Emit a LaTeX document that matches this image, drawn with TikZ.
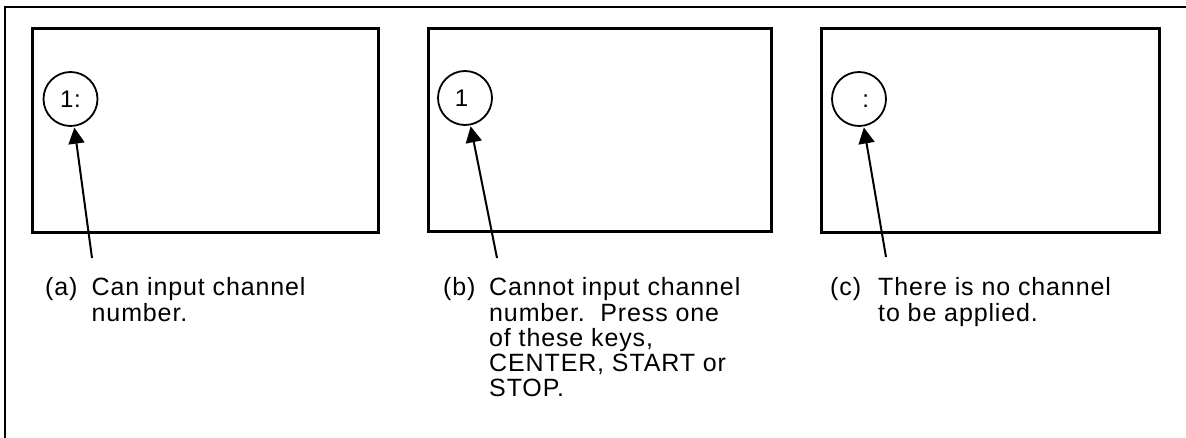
\documentclass[tikz,border=0pt]{standalone}
\usepackage{fontspec}
\setmainfont[LetterSpace=3.5]{Liberation Sans}
\usetikzlibrary{arrows.meta}
\begin{document}
\begin{tikzpicture}[x=1pt,y=-1pt,
  frame/.style={line width=2.6pt},
  screen/.style={line width=3pt},
  disp/.style={circle, draw, line width=1.8pt, minimum size=54pt, inner sep=0pt,
    font=\fontsize{24}{24}\selectfont},
  ptr/.style={line width=2pt, shorten >=1pt, -{Triangle[length=16pt,width=16pt]}},
  tag/.style={anchor=base west, inner sep=0pt, font=\fontsize{25}{24.5}\selectfont},
]
\useasboundingbox (0,0) rectangle (1186,438);
\fill[white] (0,0) rectangle (1186,438);
% outer frame (partial)
\draw[frame] (5,438) -- (5,7) -- (1186,7);
% screens
\draw[screen] (32,29) rectangle (378,233);
\draw[screen] (428,29) rectangle (771,232);
\draw[screen] (821,29) rectangle (1159,233);
% display circles
\node[disp] (ca) at (70.5,99) {1:};
\node[disp] (cb) at (465,98) {1\phantom{:}};
\node[disp] (cc) at (859,99) {\phantom{1}:};
% arrow tails
\coordinate (ta) at (92,258);
\coordinate (tb) at (497,258);
\coordinate (tc) at (886,257);
\draw[ptr] (ta) -- (ca);
\draw[ptr] (tb) -- (cb);
\draw[ptr] (tc) -- (cc);
% captions
\node[tag] (la) at (45,296) {(a)};
\node[tag] (xa) at (91.5,296) {\begin{tabular}[t]{@{}l@{}}Can input channel\\number.\end{tabular}};
\node[tag] (lb) at (443,296) {(b)};
\node[tag] (xb) at (489,296) {\begin{tabular}[t]{@{}l@{}}Cannot input channel\\number.~~Press one\\of these keys,\\CENTER, START or\\STOP.\end{tabular}};
\node[tag] (lc) at (830,296) {(c)};
\node[tag] (xc) at (878,296) {\begin{tabular}[t]{@{}l@{}}There is no channel\\to be applied.\end{tabular}};
\end{tikzpicture}
\end{document}
